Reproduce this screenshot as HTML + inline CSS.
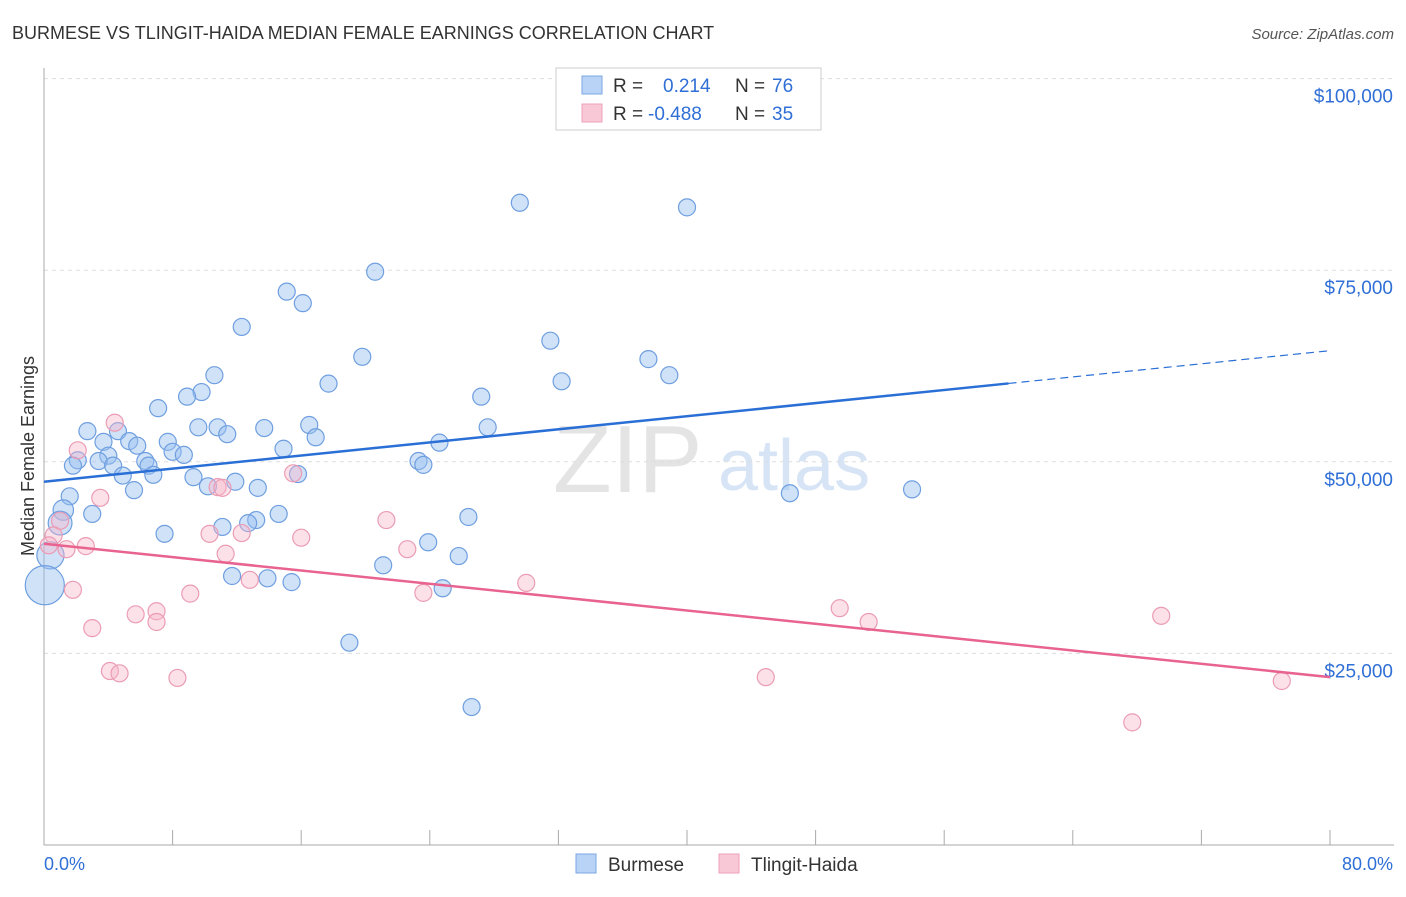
<!DOCTYPE html>
<html><head><meta charset="utf-8"><style>
body{margin:0;background:#fff;font-family:"Liberation Sans",sans-serif}
svg text{font-family:"Liberation Sans",sans-serif}
</style></head><body>
<svg id="c" width="1406" height="892">
<text x="12" y="39" font-size="18" fill="#333">BURMESE VS TLINGIT-HAIDA MEDIAN FEMALE EARNINGS CORRELATION CHART</text>
<text x="1394" y="39" font-size="15" fill="#555" font-style="italic" text-anchor="end">Source: ZipAtlas.com</text>
<text x="34" y="456" font-size="18" fill="#333" text-anchor="middle" transform="rotate(-90 34 456)">Median Female Earnings</text>
<text x="553" y="492" font-size="96" fill="#e4e4e4" font-family="Liberation Serif">ZIP</text>
<text x="718" y="490" font-size="72" fill="#d6e4f6">atlas</text>
<g id="grid"></g><g id="axes"></g><g id="pts"></g><g id="lines"></g>
<g>
<rect x="556" y="68" width="265" height="62" fill="#fff" stroke="#ccc"/>
<rect x="582" y="76" width="20" height="18" fill="#b9d3f6" stroke="#7aa7e4"/>
<text x="613" y="92" font-size="19" fill="#333">R =</text><text x="663" y="92" font-size="19" fill="#2f6fd6">0.214</text>
<text x="735" y="92" font-size="19" fill="#333">N =</text><text x="772" y="92" font-size="19" fill="#2f6fd6">76</text>
<rect x="582" y="104" width="20" height="18" fill="#f9c8d6" stroke="#eea0b8"/>
<text x="613" y="120" font-size="19" fill="#333">R =</text><text x="648" y="120" font-size="19" fill="#2f6fd6">-0.488</text>
<text x="735" y="120" font-size="19" fill="#333">N =</text><text x="772" y="120" font-size="19" fill="#2f6fd6">35</text>
</g>
<g>
<rect x="576" y="854" width="20" height="19" fill="#b9d3f6" stroke="#7aa7e4"/>
<text x="608" y="871" font-size="19" fill="#333">Burmese</text>
<rect x="719" y="854" width="20" height="19" fill="#f9c8d6" stroke="#eea0b8"/>
<text x="751" y="871" font-size="19" fill="#333">Tlingit-Haida</text>
</g>
<text x="44" y="870" font-size="18" fill="#2f6fd6">0.0%</text>
<text x="1393" y="870" font-size="18" fill="#2f6fd6" text-anchor="end">80.0%</text>
</svg>
<script>
const yTicks=[25000,50000,75000,100000];
const yTickLabels=["$25,000","$50,000","$75,000","$100,000"];
const xTicks=[0,8,16,24,32,40,48,56,64,72,80];
const burX=[29.6,40.0,20.6,15.1,16.1,12.3,31.5,19.8,37.6,38.9,32.2,17.7,10.6,9.8,8.9,27.2,7.1,16.5,10.8,9.6,13.7,2.7,4.6,27.6,11.4,16.9,3.7,5.3,5.8,7.7,24.6,14.9,8.0,8.7,4.0,2.1,3.4,6.3,6.5,1.8,4.3,23.3,23.6,15.8,4.9,6.8,9.3,11.9,10.2,13.3,5.6,46.4,54.0,1.6,1.2,3.0,14.6,26.4,13.2,12.7,1.0,11.1,7.5,23.9,25.8,0.4,21.1,11.7,13.9,15.4,24.8,0.05,19.0,26.6];
const burY=[83800,83200,74800,72200,70700,67600,65800,63700,63400,61300,60500,60200,61300,59100,58500,58500,57000,54800,54500,54500,54400,54000,54000,54500,53600,53200,52600,52700,52100,52600,52500,51700,51300,50900,50800,50200,50100,50100,49500,49500,49500,50100,49600,48400,48200,48300,48000,47400,46800,46600,46300,45900,46400,45500,43700,43200,43200,42800,42400,42000,42000,41500,40600,39500,37700,37800,36500,35100,34800,34300,33500,33900,26400,18000];
const burSize=[1,1,1,1,1,1,1,1,1,1,1,1,1,1,1,1,1,1,1,1,1,1,1,1,1,1,1,1,1,1,1,1,1,1,1,1,1,1,1,1,1,1,1,1,1,1,1,1,1,1,1,1,1,1,1.2,1,1,1,1,1,1.4,1,1,1,1,1.6,1,1,1,1,1,2.3,1,1];
const tliX=[4.4,2.1,15.5,10.8,11.1,3.5,21.3,1.0,10.3,12.3,0.6,16.0,2.6,0.3,1.4,22.6,11.3,30.0,12.8,1.8,23.6,9.1,7.0,5.7,7.0,49.5,51.3,69.5,3.0,4.1,4.7,8.3,44.9,77.0,67.7];
const tliY=[55100,51500,48500,46700,46600,45300,42400,42300,40600,40700,40400,40100,39000,39100,38600,38600,38000,34200,34600,33300,32900,32800,30500,30100,29100,30900,29100,29900,28300,22700,22400,21800,21900,21400,16000];
const burTrend=[47400,64500];
const tliTrend=[39300,21900];
const NS="http://www.w3.org/2000/svg";
const xs=v=>44+v*16.075, ys=v=>845-v/25000*191.6;
function mk(t,a,p){const e=document.createElementNS(NS,t);for(const k in a)e.setAttribute(k,a[k]);p.appendChild(e);return e;}
const grid=document.getElementById('grid'),axes=document.getElementById('axes'),pts=document.getElementById('pts'),lines=document.getElementById('lines');
yTicks.forEach((t,i)=>{const g=mk('line',{x1:44,x2:1394,y1:ys(t),y2:ys(t),stroke:'#ddd','stroke-dasharray':'4,4'},grid);


const l=mk('text',{x:1393,y:ys(t)+24,'font-size':19,fill:'#2f6fd6','text-anchor':'end'},grid);l.textContent=yTickLabels[i];

});
mk('line',{x1:44,x2:44,y1:68,y2:845,stroke:'#aaa'},axes);
mk('line',{x1:44,x2:1394,y1:845,y2:845,stroke:'#aaa'},axes);
xTicks.forEach(t=>{const k=mk('line',{x1:xs(t),x2:xs(t),y1:830,y2:845,stroke:'#aaa'},axes);

});
burX.forEach((x,i)=>{const c=mk('circle',{cx:xs(x),cy:ys(burY[i]),r:8.5*burSize[i],fill:'rgba(150,190,240,0.45)',stroke:'#6f9fe0','stroke-width':1.2},pts);

});
tliX.forEach((x,i)=>{const c=mk('circle',{cx:xs(x),cy:ys(tliY[i]),r:8.5,fill:'rgba(248,180,200,0.4)',stroke:'#eb9cb5','stroke-width':1.2},pts);

});
const by=x=>burTrend[0]+(burTrend[1]-burTrend[0])*x/80;
let a=mk('line',{x1:xs(0),y1:ys(by(0)),x2:xs(60),y2:ys(by(60)),stroke:'#2a6fd6','stroke-width':2.5},lines);


a=mk('line',{x1:xs(60),y1:ys(by(60)),x2:xs(80),y2:ys(by(80)),stroke:'#2a6fd6','stroke-width':1.2,'stroke-dasharray':'8,5'},lines);


a=mk('line',{x1:xs(0),y1:ys(tliTrend[0]),x2:xs(80),y2:ys(tliTrend[1]),stroke:'#e8638f','stroke-width':2.5},lines);


</script>
</body></html>
